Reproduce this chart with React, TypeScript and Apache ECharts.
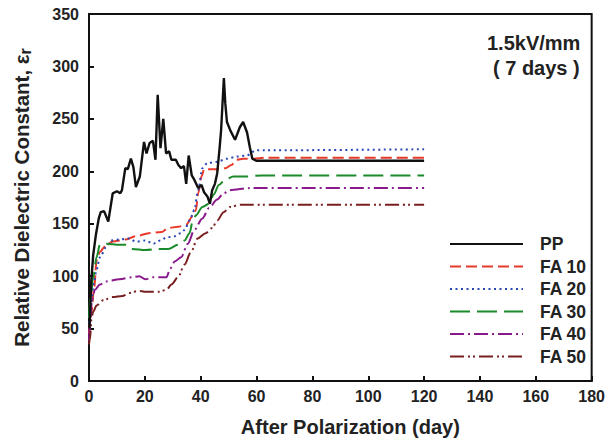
import React, { useEffect, useRef } from "react";
import * as echarts from "echarts";

const xTicks = [0, 20, 40, 60, 80, 100, 120, 140, 160, 180];
const yTicks = [0, 50, 100, 150, 200, 250, 300, 350];

const ppDays = [0.2, 0.8, 1.5, 2.5, 3.5, 4.2, 5.4, 6.9, 8.5, 10, 11.2, 11.8, 13.0, 13.9, 15.0, 15.9, 16.8, 18.2, 19.7, 20.6, 21.7, 22.9, 23.8, 24.6, 25.6, 26.6, 27.6, 28.7, 29.5, 31.1, 32.0, 33.0, 34.0, 34.8, 35.7, 36.8, 37.7, 39.1, 40.3, 41.2, 42.4, 43.3, 44.1, 45.1, 45.9, 46.8, 47.3, 48.3, 48.8, 49.4, 50.6, 52.3, 54.0, 55.2, 56.6, 57.6, 58.5, 59.9, 120];
const ppValues = [50, 95, 120, 140, 155, 161, 162, 152, 179, 181, 179, 182, 203, 202, 212, 204, 185, 195, 228, 217, 227, 229, 211, 273, 222, 250, 217, 219, 211, 211, 206, 203, 205, 188, 215, 196, 192, 184, 187, 180, 176, 169, 182, 188, 198, 223, 239, 289, 265, 247, 239, 230, 242, 247, 237, 223, 212, 210, 210];

const fa10Days = [0, 0.8, 1.9, 2.7, 3.9, 5.6, 8.5, 13.2, 16.7, 21.4, 26, 28.4, 31.9, 34.8, 37.1, 38.3, 39.1, 40.3, 41.2, 43.5, 46.5, 49, 51, 52.9, 55.2, 58.7, 62.8, 120];
const fa10Values = [45, 65, 90, 115, 123, 128, 133, 135, 138, 141, 142, 146, 147, 149, 157, 163, 179, 195, 202, 202, 202, 203, 206, 211, 212, 212, 213, 213];

const fa20Days = [0, 0.8, 1.8, 2.7, 3.9, 6.2, 7.9, 10.9, 14.4, 16.7, 20.2, 23.1, 25.5, 27.8, 30.7, 32.8, 34.2, 36, 37.7, 39.1, 40.6, 42.4, 45.9, 49.4, 52.9, 56.4, 59.9, 62.8, 120];
const fa20Values = [55, 75, 95, 106, 118, 128, 134, 135, 136, 133, 134, 131, 134, 137, 138, 141, 144, 153, 163, 182, 203, 208, 209, 212, 214, 215, 220, 220, 221];

const fa30Days = [0, 0.5, 1.5, 2.7, 3.9, 6.2, 10.9, 13.2, 15.5, 20.2, 24.9, 28.4, 31.9, 34.2, 36, 37.1, 38.3, 40.6, 43, 44.7, 46.5, 48.8, 51.7, 56, 62, 120];
const fa30Values = [60, 80, 99, 118, 130, 131, 130, 130, 126, 125, 126, 126, 130, 134, 141, 152, 158, 166, 169, 178, 187, 192, 195, 195, 196, 196];

const fa40Days = [0, 0.5, 1, 2.1, 3.9, 6.2, 10.9, 15.5, 18, 20.2, 23, 26, 27.8, 29, 30.7, 33, 35.4, 37.7, 40.6, 43, 45.9, 48.2, 50.5, 57.6, 120];
const fa40Values = [38, 60, 75, 87, 92, 95, 97, 99, 100, 97, 99, 99, 99, 107, 114, 118, 131, 144, 155, 165, 173, 179, 182, 184, 184];

const fa50Days = [0, 0.35, 0.9, 1.5, 2.7, 5, 8.5, 12, 14.4, 17.9, 20.2, 24.9, 27.8, 29.5, 31.9, 34.2, 36.5, 38.9, 41.8, 44.1, 45.9, 48.2, 50.5, 54, 120];
const fa50Values = [35, 40, 60, 66, 72, 77, 80, 81, 84, 86, 85, 85, 87, 92, 99, 111, 123, 136, 141, 146, 153, 161, 166, 168, 168];

const seriesNames = ["PP", "FA 10", "FA 20", "FA 30", "FA 40", "FA 50"];
const seriesColors = ["#111111", "#e8392a", "#2a45b5", "#1a8a2a", "#8a1a8c", "#7a1f1f"];
const seriesDash: any[] = ["solid", [11, 5], [2, 3.5], [20, 7], [14, 4, 2, 4], [14, 4, 2, 3, 2, 4]];
const seriesDays = [ppDays, fa10Days, fa20Days, fa30Days, fa40Days, fa50Days];
const seriesValues = [ppValues, fa10Values, fa20Values, fa30Values, fa40Values, fa50Values];

const FONT = "'Liberation Sans', Arial, Helvetica, sans-serif";

export default function App() {
  const ref = useRef<HTMLDivElement>(null);
  useEffect(() => {
    if (!ref.current) return;
    const chart = echarts.init(ref.current, null, { renderer: "svg" });
    const series = seriesNames.map((name, i) => ({
      name,
      type: "line",
      data: seriesDays[i].map((d, j) => [d, seriesValues[i][j]]),
      symbol: "none",
      showSymbol: false,
      smooth: i === 0 ? false : 0.3,
      smoothMonotone: "x",
      lineStyle: { color: seriesColors[i], width: i === 0 ? 2.4 : 2, type: seriesDash[i] },
      itemStyle: { color: seriesColors[i] },
      z: i === 0 ? 3 : 2,
    }));
    chart.setOption({
      animation: false,
      backgroundColor: "#ffffff",
      textStyle: { fontFamily: FONT },
      grid: {
        left: 89,
        right: 5,
        top: 14,
        bottom: 61,
        show: true,
        borderColor: "#111",
        borderWidth: 2,
        backgroundColor: "transparent",
      },
      legend: {
        orient: "vertical",
        left: 449,
        top: 235,
        padding: 0,
        itemWidth: 73,
        itemHeight: 14,
        itemGap: 4.5,
        data: seriesNames,
        itemStyle: { opacity: 0, borderWidth: 0 },
        textStyle: {
          fontFamily: FONT,
          fontWeight: "bold",
          fontSize: 17.5,
          color: "#222",
          padding: [0, 0, 0, 12],
        },
      },
      xAxis: {
        type: "value",
        min: xTicks[0],
        max: xTicks[xTicks.length - 1],
        interval: 20,
        name: "After Polarization (day)",
        nameLocation: "middle",
        nameGap: 36,
        nameTextStyle: { fontFamily: FONT, fontWeight: "bold", fontSize: 20, color: "#222", padding: [0, 0, 0, 20] },
        axisLine: { lineStyle: { color: "#111", width: 2 } },
        axisTick: { inside: true, length: 5, lineStyle: { color: "#111", width: 2 } },
        axisLabel: { fontFamily: FONT, fontWeight: "bold", fontSize: 16, color: "#222", margin: 7 },
        splitLine: { show: false },
      },
      yAxis: {
        type: "value",
        min: yTicks[0],
        max: yTicks[yTicks.length - 1],
        interval: 50,
        name: "Relative Dielectric Constant, ε{s|r}",
        nameLocation: "middle",
        nameGap: 56,
        nameTextStyle: {
          fontFamily: FONT,
          fontWeight: "bold",
          fontSize: 20.5,
          color: "#222",
          rich: {
            s: { fontFamily: FONT, fontWeight: "bold", fontSize: 16, color: "#222", verticalAlign: "bottom", padding: [7, 0, 0, 0] },
          },
        },
        axisLine: { lineStyle: { color: "#111", width: 2 } },
        axisTick: { inside: true, length: 5, lineStyle: { color: "#111", width: 2 } },
        axisLabel: { fontFamily: FONT, fontWeight: "bold", fontSize: 16, color: "#222", margin: 10 },
        splitLine: { show: false },
      },
      graphic: [
        {
          type: "text",
          left: 487,
          top: 33,
          style: { text: "1.5kV/mm", font: `bold 20px ${FONT}`, fill: "#222" },
        },
        {
          type: "text",
          left: 493,
          top: 58,
          style: { text: "( 7 days )", font: `bold 20px ${FONT}`, fill: "#222" },
        },
      ],
      series,
    });
    return () => chart.dispose();
  }, []);
  return <div ref={ref} style={{ width: 608, height: 442, position: "absolute", left: 0, top: 0 }} />;
}
